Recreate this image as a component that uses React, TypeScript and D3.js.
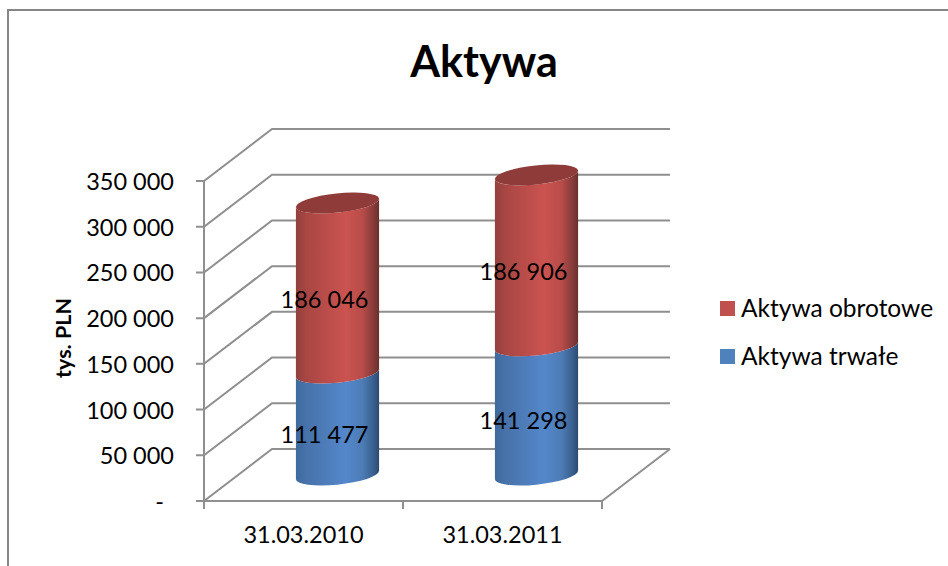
import React from "react";
import * as d3 from "d3";

const categories = ["31.03.2010", "31.03.2011"];
const trwale = [111477, 141298];
const obrotowe = [186046, 186906];
const yTicks = [0, 50000, 100000, 150000, 200000, 250000, 300000, 350000];
const title = "Aktywa";
const yTitle = "tys. PLN";
const legendItems = [
  { name: "Aktywa obrotowe", color: "#c0504d", y: 309 },
  { name: "Aktywa trwałe", color: "#4f81bd", y: 357 },
];

const W = 948, H = 566;
const FONT = "Lato, Carlito, 'Open Sans', sans-serif";
const GRID = "#8f8f8f";
const GW = 2;
const dx = 68, dy = -52;

const x = d3.scaleBand<string>().domain(categories).range([204, 602]);
const y = d3.scaleLinear().domain([0, 350000]).range([501, 181]);
const fmt = (v: number) => (v === 0 ? "-" : d3.format(",")(v).replace(/,/g, " "));

// tilted ellipse describing cylinder cross-section
const A = 41.8, B = 9.6, TILT = -6;
const th = (TILT * Math.PI) / 180;
const hw = Math.sqrt(A * A * Math.cos(th) ** 2 + B * B * Math.sin(th) ** 2);
const off = ((A * A - B * B) * Math.sin(th) * Math.cos(th)) / hw;

function body(cx: number, y0: number, y1: number) {
  return [
    `M${cx - hw},${y0 - off}`,
    `A${A},${B} ${TILT} 0 0 ${cx + hw},${y0 + off}`,
    `L${cx + hw},${y1 + off}`,
    `A${A},${B} ${TILT} 0 1 ${cx - hw},${y1 - off}`,
    "Z",
  ].join(" ");
}

function Cylinder({ cx, y0, y1, grad, top }: { cx: number; y0: number; y1: number; grad: string; top?: string }) {
  return (
    <g>
      <path d={body(cx, y0, y1)} fill={`url(#${grad})`} />
      {top && <ellipse cx={cx} cy={y1} rx={A} ry={B} fill={top} transform={`rotate(${TILT} ${cx} ${y1})`} />}
    </g>
  );
}

function Grad({ id, stops }: { id: string; stops: [number, string][] }) {
  return (
    <linearGradient id={id} x1="0" x2="1" y1="0" y2="0">
      {stops.map(([o, c]) => (
        <stop key={o} offset={o} stopColor={c} />
      ))}
    </linearGradient>
  );
}

export default function App() {
  const bw = x.bandwidth();
  const dataLabel = { fontFamily: FONT, fontSize: 23.5, fill: "#000", textAnchor: "middle" as const };
  return (
    <svg width={W} height={H} viewBox={`0 0 ${W} ${H}`} style={{ position: "fixed", left: 0, top: 0, background: "#fff" }}>
      <defs>
        <Grad id="red" stops={[[0, "#93403d"], [0.12, "#a84643"], [0.6, "#cb5350"], [0.8, "#b84c49"], [0.93, "#873c3a"], [1, "#6a2f2e"]]} />
        <Grad id="blue" stops={[[0, "#3f6a9f"], [0.12, "#4772a9"], [0.6, "#5487cb"], [0.8, "#4d7cb5"], [0.93, "#39608f"], [1, "#2d4a6e"]]} />
      </defs>
      {/* outer frame */}
      <path d={`M8,${H} V10 H${W}`} fill="none" stroke="#868686" strokeWidth={2} />

      {/* walls */}
      {yTicks.map((t) => (
        <polyline key={t} points={`196,${y(t)} 204,${y(t)} ${204 + dx},${y(t) + dy} 670,${y(t) + dy}`} fill="none" stroke={GRID} strokeWidth={GW} />
      ))}
      <line x1={204} x2={204} y1={y(350000)} y2={509} stroke={GRID} strokeWidth={GW} />
      <polyline points={`204,501 602,501 670,449`} fill="none" stroke={GRID} strokeWidth={GW} />
      {[204, 403, 602].map((px) => (
        <line key={px} x1={px} x2={px} y1={501} y2={509} stroke={GRID} strokeWidth={GW} />
      ))}

      {/* cylinders */}
      {categories.map((c, i) => {
        const cx = (x(c) as number) + bw / 2 + dx / 2;
        const lift = dy / 2;
        const y0 = y(0) + lift;
        const y1 = y(trwale[i]) + lift;
        const y2 = y(trwale[i] + obrotowe[i]) + lift;
        return (
          <g key={c}>
            <Cylinder cx={cx} y0={y0} y1={y1} grad="blue" />
            <Cylinder cx={cx} y0={y1} y1={y2} grad="red" top="#8f3b39" />
          </g>
        );
      })}

      {/* data labels */}
      {categories.map((c, i) => {
        const cx = (x(c) as number) + bw / 2 + 21;
        const lift = dy / 2;
        const y0 = y(0) + lift;
        const y1 = y(trwale[i]) + lift;
        const y2 = y(trwale[i] + obrotowe[i]) + lift;
        return (
          <g key={c} {...dataLabel}>
            <text x={cx} y={(y0 + y1) / 2 + 19}>{fmt(trwale[i])}</text>
            <text x={cx} y={(y1 + y2) / 2 + 20}>{fmt(obrotowe[i])}</text>
          </g>
        );
      })}

      {/* y labels */}
      {yTicks.map((t) => (
        <text key={t} x={t === 0 ? 164 : 174} y={y(t) + 9} textAnchor="end" fontFamily={FONT} fontSize={23.5} fill="#000">
          {fmt(t)}
        </text>
      ))}
      {/* x labels */}
      {categories.map((c) => (
        <text key={c} x={(x(c) as number) + bw / 2} y={543} textAnchor="middle" fontFamily={FONT} fontSize={23.5} fill="#000">
          {c}
        </text>
      ))}

      <text x={484} y={77} textAnchor="middle" fontFamily={FONT} fontSize={43} fontWeight={700} fill="#000">{title}</text>
      <text transform="translate(71,338) rotate(-90)" textAnchor="middle" fontFamily={FONT} fontSize={21.5} fontWeight={700} fill="#000">{yTitle}</text>

      {legendItems.map((l) => (
        <g key={l.name}>
          <rect x={720} y={l.y - 8} width={15} height={15} fill={l.color} />
          <text x={741} y={l.y + 8} fontFamily={FONT} fontSize={24.5} fill="#000">{l.name}</text>
        </g>
      ))}
    </svg>
  );
}
